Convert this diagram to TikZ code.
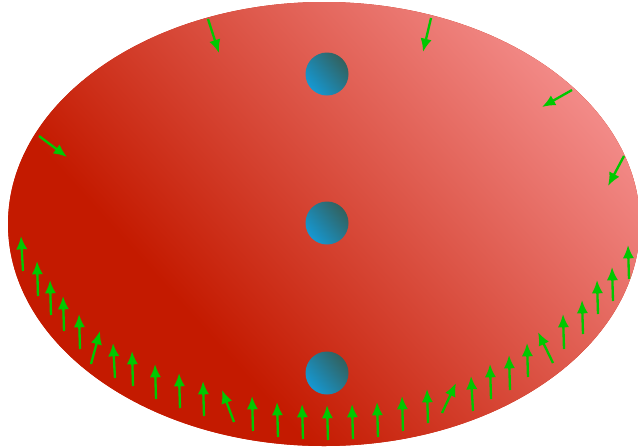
\documentclass[tikz,border=0pt]{standalone}
\usepackage{tikz}
\usetikzlibrary{arrows.meta,calc}

\definecolor{ovaldark}{HTML}{C41A00}
\definecolor{ovallight}{HTML}{F48E8C}
\definecolor{holeblue}{HTML}{1598D2}
\definecolor{holeteal}{HTML}{32615E}
\definecolor{forcegreen}{HTML}{00C800}

\pgfdeclarehorizontalshading{ovalfade}{100bp}{color(0bp)=(ovaldark); color(36.7bp)=(ovaldark);
  color(74.2bp)=(ovallight); color(100bp)=(ovallight)}
\pgfdeclarehorizontalshading{holefade}{100bp}{color(0bp)=(holeblue); color(25bp)=(holeblue);
  color(75bp)=(holeteal); color(100bp)=(holeteal)}

\tikzset{
  force/.style={forcegreen, line width=1.75pt, -{Latex[length=10pt,width=8.5pt]}},
  hole/.style={shading=holefade, shading angle=40}
}

\begin{document}
\begin{tikzpicture}[x=0.75pt, y=-0.75pt]
    \useasboundingbox (0,0) rectangle (638,447);

    % Body
    \fill[ovaldark] (324,224) ellipse [x radius=316, y radius=222];
    \begin{scope}
      \clip (324,224) ellipse [x radius=316, y radius=222];
      \begin{scope}[transform canvas={rotate around={42:(324,224)}}]
        \shade[shading=ovalfade, shading angle=0] (24,-76) rectangle (624,524);
      \end{scope}
    \end{scope}

    % Holes
    \shade[hole] (327,74) circle [radius=21.5];
    \shade[hole] (327,223) circle [radius=21.5];
    \shade[hole] (327,373) circle [radius=21.5];

    % Loads on the upper edge
    \foreach \xa/\ya/\xb/\yb in {208/19/219/53, 39/136/67/157, 431/18/423/52,
                                 572/90/542/107, 624/156/608/186}
      \draw[force] (\xa,\ya) -- (\xb,\yb);

    % Supports on the lower edge
    \foreach \xa/\ya/\xb/\yb in {23/271/21/236, 38/296/37/261, 51/315/50/280, 64/331/63/296,
                                 80/349/79/314, 91/364/100/331, 115/378/113/343, 133/386/132/351,
                                 156/399/155/364, 180/408/179/373, 204/416/203/381, 234/422/222/390,
                                 253/431/252/396, 278/437/277/402, 303/439/302/404, 328/440/327/405,
                                 353/439/352/404, 378/437/377/402, 403/431/402/396, 428/423/427/389,
                                 442/413/456/383, 473/411/471/376, 491/399/490/364, 510/390/509/355,
                                 528/377/527/343, 553/363/538/332, 564/349/563/314, 583/334/582/300,
                                 598/314/597/280, 613/301/612/267, 629/279/628/245}
      \draw[force] (\xa,\ya) -- (\xb,\yb);
\end{tikzpicture}
\end{document}
